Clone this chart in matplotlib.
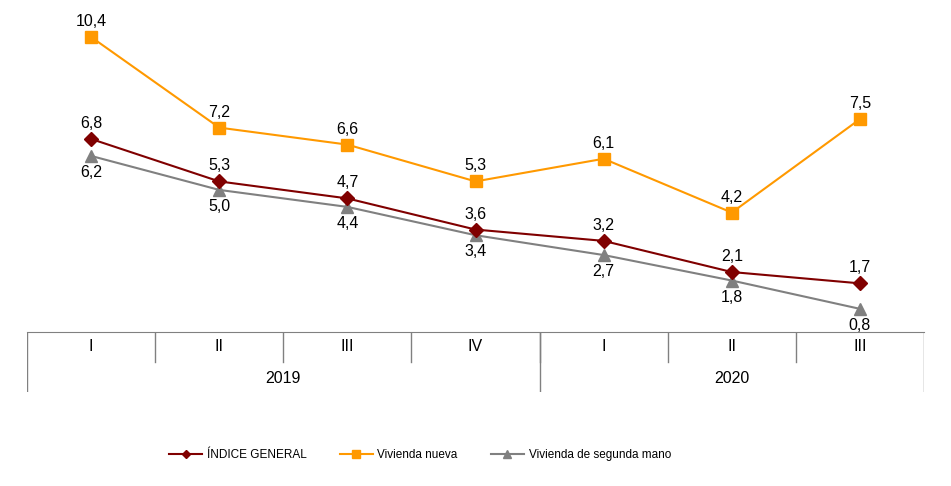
import matplotlib
matplotlib.use("Agg")
import matplotlib.pyplot as plt
from matplotlib.lines import Line2D

plt.rcParams['font.family'] = ['Liberation Sans', 'DejaVu Sans']

trimestres = ["I", "II", "III", "IV", "I", "II", "III"]
anios = ["2019", "2020"]
trim_por_anio = [4, 3]
indice_general = [6.8, 5.3, 4.7, 3.6, 3.2, 2.1, 1.7]
vivienda_nueva = [10.4, 7.2, 6.6, 5.3, 6.1, 4.2, 7.5]
segunda_mano = [6.2, 5.0, 4.4, 3.4, 2.7, 1.8, 0.8]

c_rojo = "#800000"
c_naranja = "#FF9900"
c_gris = "#808080"

W, H = 951, 486
fig = plt.figure(figsize=(W / 100, H / 100), dpi=100)
left, right = 27 / W, 924 / W
y_axis = 331.5
top = 20
ax = fig.add_axes([left, (H - y_axis) / H, right - left, (y_axis - top) / H])

x = list(range(len(trimestres)))
ax.plot(x, segunda_mano, color=c_gris, lw=1.5, marker="^", ms=9, zorder=3)
ax.plot(x, indice_general, color=c_rojo, lw=1.5, marker="D", ms=7, zorder=4)
ax.plot(x, vivienda_nueva, color=c_naranja, lw=1.5, marker="s", ms=9, zorder=5)

def etiquetas(vals, dy, va):
    for xi, v in zip(x, vals):
        ax.annotate(f"{v:.1f}".replace(".", ","), (xi, v), xytext=(0, dy),
                    textcoords="offset pixels", ha="center", va=va, fontsize=11.5)

etiquetas(vivienda_nueva, 8, "bottom")
etiquetas(indice_general, 8, "bottom")
etiquetas(segunda_mano, -9, "top")

ax.set_xlim(-0.5, len(trimestres) - 0.5)
ax.set_ylim(0, 11)
for s in ["top", "left", "right"]:
    ax.spines[s].set_visible(False)
ax.spines["bottom"].set_color(c_gris)
ax.set_xticks([])
ax.set_yticks([])

# tabla de categorias bajo el eje
y_bot = 392
tab = fig.add_axes([left, (H - y_bot) / H, right - left, (y_bot - y_axis) / H])
tab.set_xlim(-0.5, len(trimestres) - 0.5)
tab.set_ylim(0, 2)
tab.axis("off")
for i, t in enumerate(trimestres):
    tab.text(i, 1.5, t, ha="center", va="center", fontsize=11.5)
for i in range(1, len(trimestres)):
    tab.plot([i - 0.5, i - 0.5], [1, 2], color=c_gris, lw=1)
inicio = -0.5
tab.plot([inicio, inicio], [0, 2], color=c_gris, lw=1)
for a, n in zip(anios, trim_por_anio):
    fin = inicio + n
    tab.text((inicio + fin) / 2, 0.45, a, ha="center", va="center", fontsize=11.5)
    tab.plot([fin, fin], [0, 2], color=c_gris, lw=1)
    inicio = fin

handles = [
    Line2D([], [], color=c_rojo, lw=1.5, marker="D", ms=4.5),
    Line2D([], [], color=c_naranja, lw=1.5, marker="s", ms=6),
    Line2D([], [], color=c_gris, lw=1.5, marker="^", ms=6),
]
fig.legend(handles, ["ÍNDICE GENERAL", "Vivienda nueva", "Vivienda de segunda mano"],
           loc="center", bbox_to_anchor=(420 / W, (H - 455) / H), ncol=3, frameon=False,
           fontsize=8.5, handlelength=2.8, handletextpad=0.4, columnspacing=2.8)

fig.savefig("out.png", dpi=100)
